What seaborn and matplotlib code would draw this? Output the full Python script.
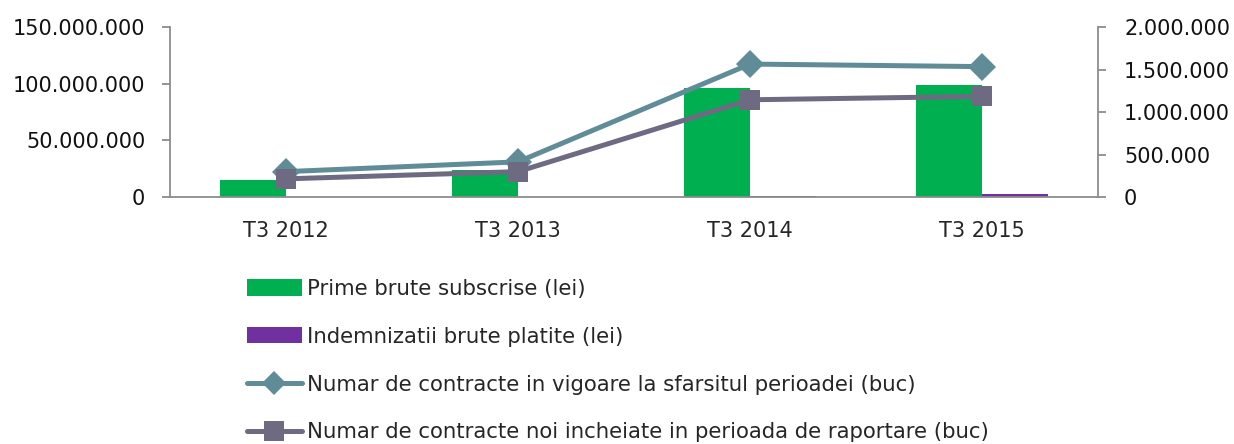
import numpy as np
import pandas as pd
import matplotlib
matplotlib.use("Agg")
import matplotlib.pyplot as plt
import matplotlib.ticker as mticker
from matplotlib.patches import Patch
from matplotlib.lines import Line2D
import seaborn as sns

# data
periods = ["T3 2012", "T3 2013", "T3 2014", "T3 2015"]
prime_brute = [14_800_000, 23_800_000, 96_500_000, 99_000_000]
indemnizatii = [300_000, 400_000, 700_000, 2_600_000]
contracte_vigoare = [300_000, 415_000, 1_565_000, 1_535_000]
contracte_noi = [215_000, 300_000, 1_145_000, 1_185_000]

lbl_prime = "Prime brute subscrise (lei)"
lbl_indem = "Indemnizatii brute platite (lei)"
lbl_vig = "Numar de contracte in vigoare la sfarsitul perioadei (buc)"
lbl_noi = "Numar de contracte noi incheiate in perioada de raportare (buc)"

GREEN = "#00B050"
PURPLE = "#7030A0"
TEAL = "#5F8C96"
SLATE = "#6E6A82"
AXIS = "#8C8C8C"

sns.set_theme(style="white")
plt.rcParams["font.family"] = ["DejaVu Sans"]
FS = 15
LEG_FS = 15.3
LW = 3.6


def thousands_dot(v, pos=None):
    return f"{int(round(v)):,}".replace(",", ".")


bars = pd.DataFrame({
    "period": periods * 2,
    "value": prime_brute + indemnizatii,
    "serie": [lbl_prime] * 4 + [lbl_indem] * 4,
})

fig = plt.figure(figsize=(12.34, 4.44), dpi=100)
ax = fig.add_axes([0.1378, 0.556, 0.752, 0.383])

sns.barplot(data=bars, x="period", y="value", hue="serie",
            palette=[GREEN, PURPLE], width=0.57, ax=ax,
            saturation=1, legend=False, linewidth=0)
ax.set_ylim(0, 150_000_000)
ax.set_xlim(-0.5, len(periods) - 0.5)
ax.yaxis.set_major_locator(mticker.MultipleLocator(50_000_000))
ax.yaxis.set_major_formatter(mticker.FuncFormatter(thousands_dot))
ax.set_xlabel("")
ax.set_ylabel("")

ax2 = ax.twinx()
x = np.arange(len(periods))
sns.lineplot(x=x, y=contracte_vigoare, ax=ax2, color=TEAL, linewidth=LW,
             marker="D", markersize=14, markeredgewidth=0)
sns.lineplot(x=x, y=contracte_noi, ax=ax2, color=SLATE, linewidth=LW,
             marker="s", markersize=15, markeredgewidth=0)
ax2.set_ylim(0, 2_000_000)
ax2.yaxis.set_major_locator(mticker.MultipleLocator(500_000))
ax2.yaxis.set_major_formatter(mticker.FuncFormatter(thousands_dot))
ax2.set_ylabel("")

# x tick marks at category boundaries, labels in the middle
ax.set_xticks(np.arange(-0.5, len(periods), 1.0))
ax.set_xticklabels([])
ax.set_xticks(x, minor=True)
ax.set_xticklabels(periods, minor=True, fontsize=FS)
ax.tick_params(axis="x", which="minor", length=0, pad=17)

for a in (ax, ax2):
    a.spines["top"].set_visible(False)
    for s in a.spines.values():
        s.set_color(AXIS)
        s.set_linewidth(1.3)
    a.tick_params(axis="both", which="major", direction="out", length=5.8,
                  width=1.3, color=AXIS, labelsize=FS, labelcolor="#111111")
    a.grid(False)
ax.spines["right"].set_visible(False)
ax2.spines["left"].set_visible(False)
ax2.spines["bottom"].set_visible(False)
ax.tick_params(axis="y", pad=12)
ax2.tick_params(axis="y", pad=13)

handles = [
    Patch(facecolor=GREEN, edgecolor="none"),
    Patch(facecolor=PURPLE, edgecolor="none"),
    Line2D([], [], color=TEAL, linewidth=LW, marker="D", markersize=12,
           markeredgewidth=0),
    Line2D([], [], color=SLATE, linewidth=LW, marker="s", markersize=14,
           markeredgewidth=0),
]
fig.legend(handles, [lbl_prime, lbl_indem, lbl_vig, lbl_noi],
           loc="upper left", bbox_to_anchor=(0.2, 0.372), frameon=False,
           fontsize=LEG_FS, handlelength=2.59, handleheight=0.8,
           handletextpad=0.24, labelspacing=1.31, borderpad=0,
           borderaxespad=0)

fig.savefig("out.png", dpi=100)
